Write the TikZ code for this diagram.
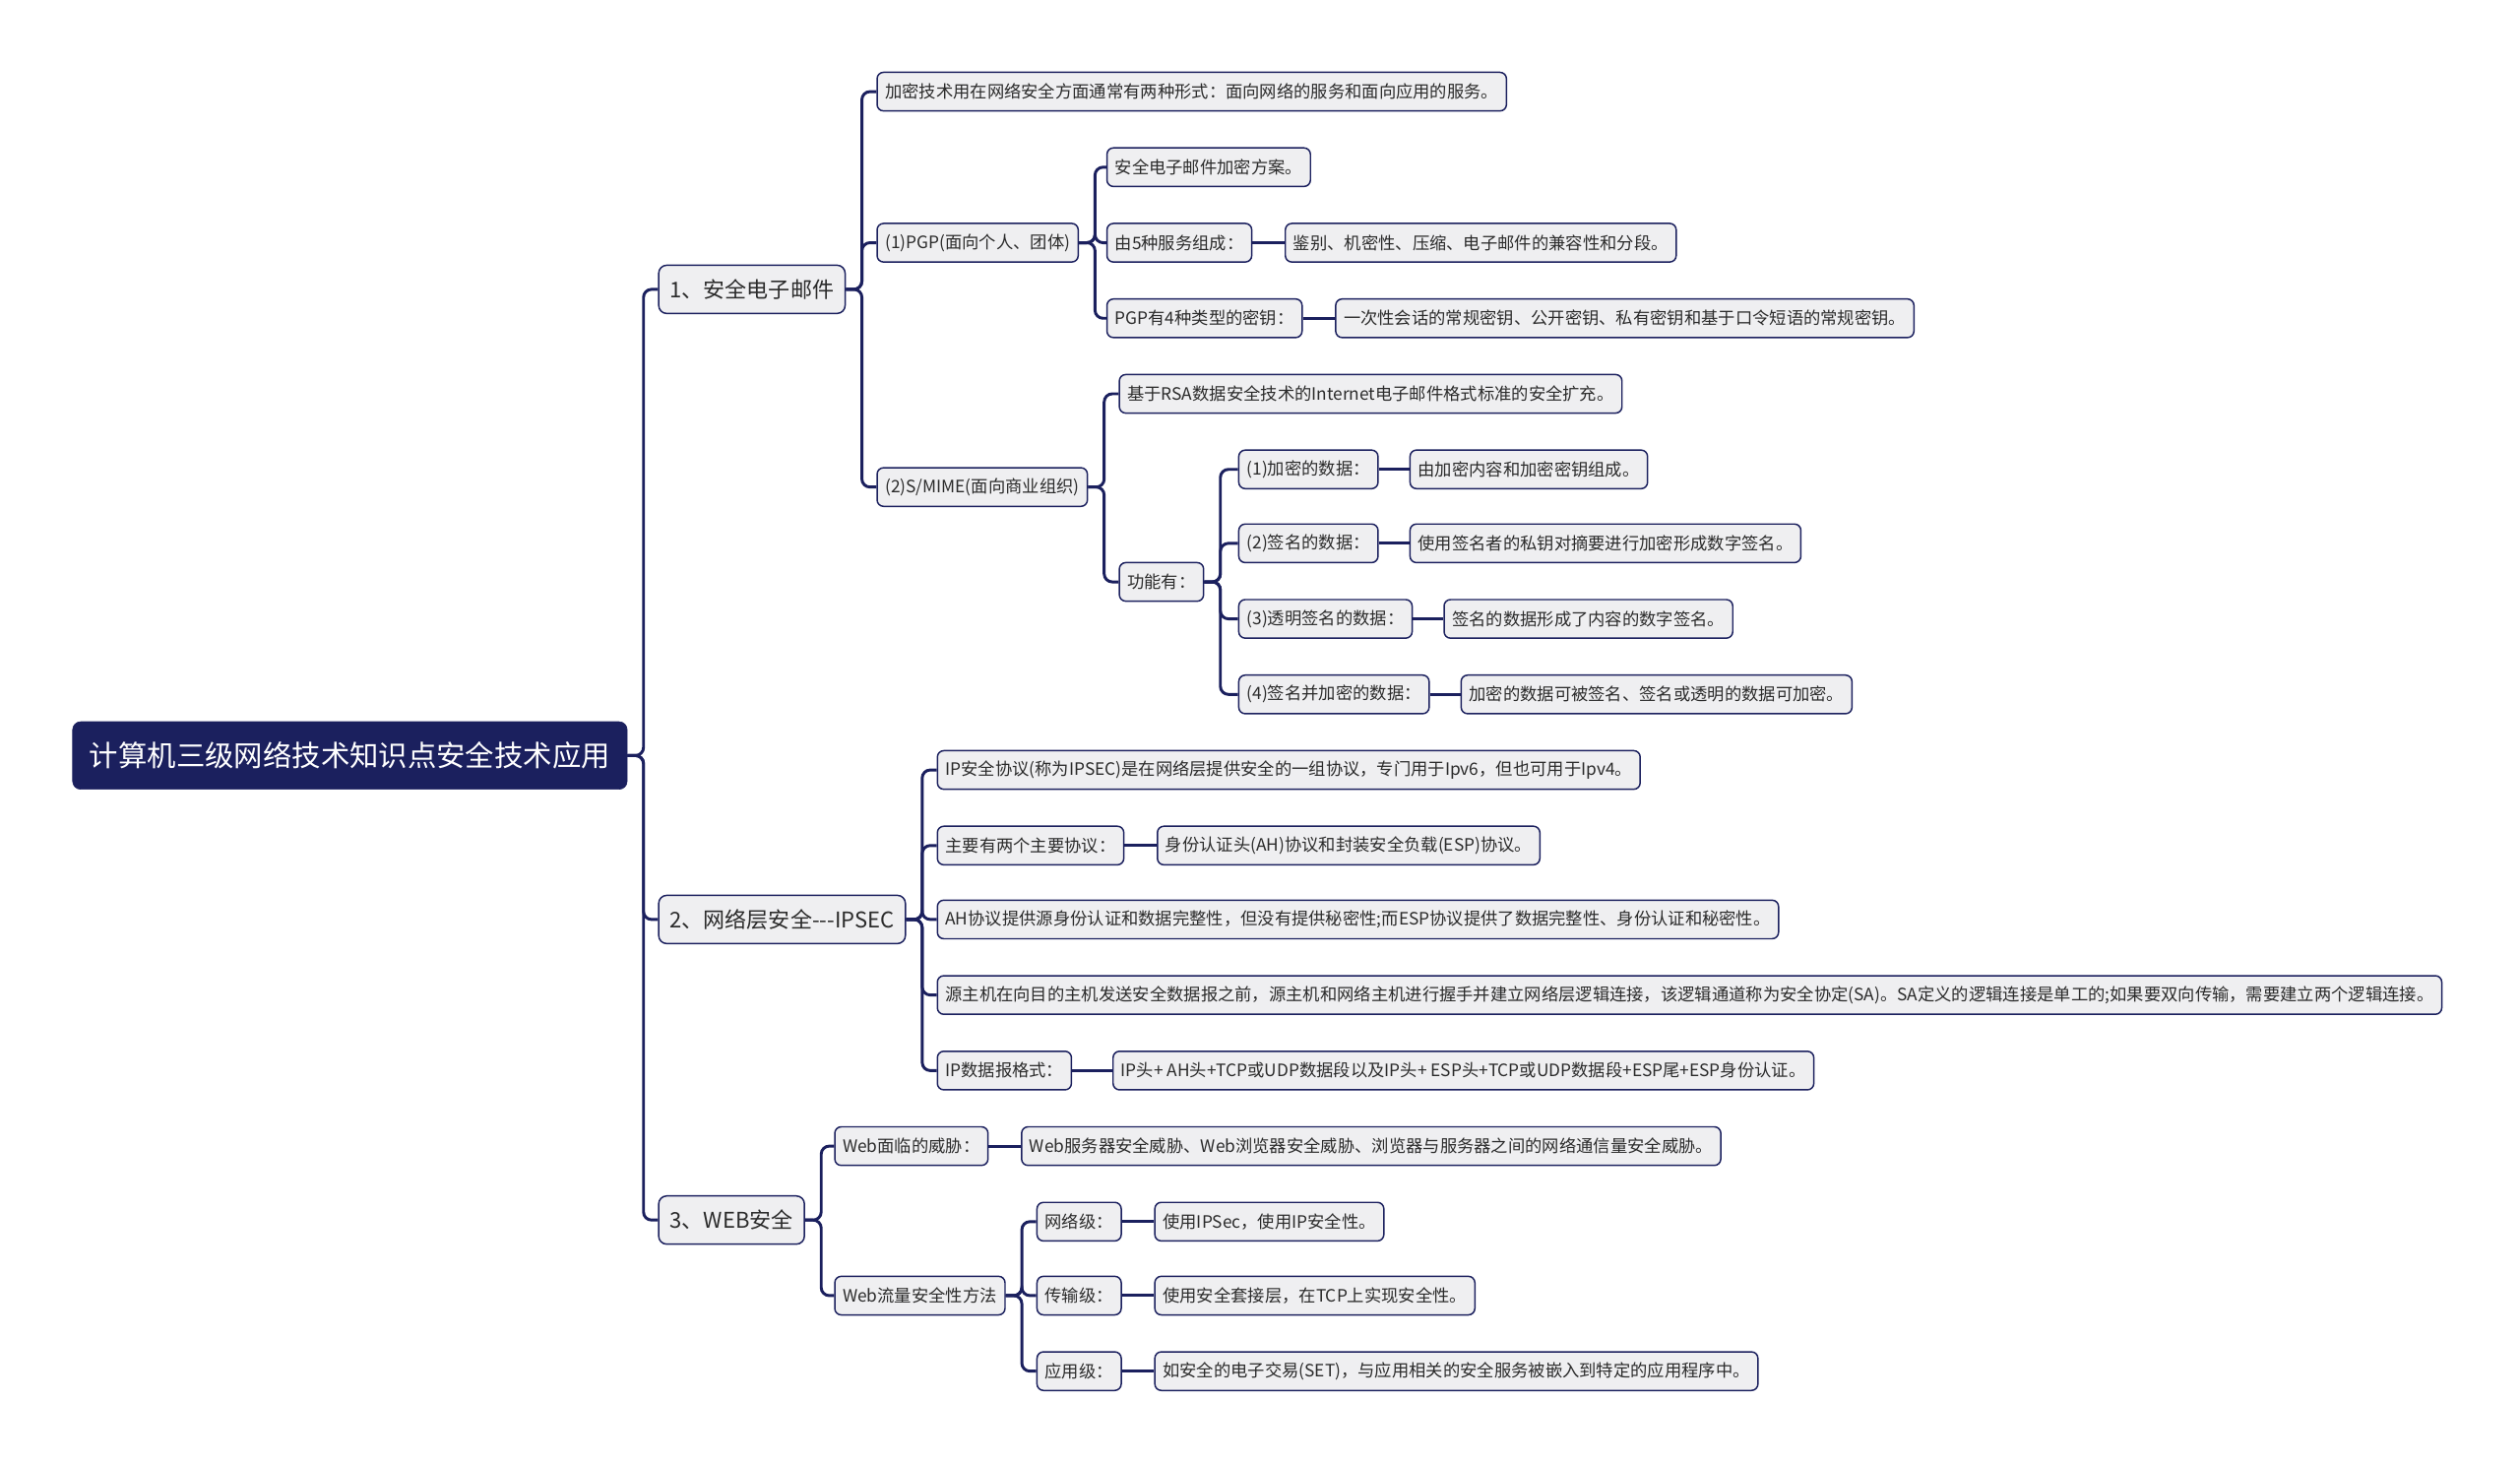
\documentclass[tikz,border=0pt]{standalone}
\usepackage{fontspec}
\setmainfont{Noto Sans CJK SC}
\usepackage{xcolor}
\usepackage{tikz}
\usetikzlibrary{positioning}
\definecolor{mNavy}{HTML}{1B205E}
\definecolor{mFill}{HTML}{EFEFF1}
\definecolor{mInk}{HTML}{2B2B2B}
\tikzset{
  rootbox/.style={draw=mNavy, fill=mNavy, text=white, rounded corners=5pt, font=\fontsize{18}{20}\selectfont, minimum height=42pt, inner xsep=10.5pt, anchor=west},
  topicbox/.style={draw=mNavy, line width=0.9pt, fill=mFill, text=mInk, rounded corners=5pt, font=\fontsize{13.5}{15}\selectfont, minimum height=30pt, inner xsep=7pt},
  leafbox/.style={draw=mNavy, line width=0.9pt, fill=mFill, text=mInk, rounded corners=4pt, font=\fontsize{10.6}{12}\selectfont, minimum height=24pt, inner xsep=5pt},
  link/.style={draw=mNavy, line width=1.8pt, rounded corners=5pt}
}
\begin{document}
\begin{tikzpicture}[x=1pt, y=-1pt]
  \useasboundingbox (0,0) rectangle (1568,911);
  % root
  \node[rootbox] (root) at (45,470) {计算机三级网络技术知识点安全技术应用};
  % main topics
  \node[topicbox, right=19pt of root, yshift=290pt] (mail) {1、安全电子邮件};
  \node[topicbox, right=19pt of root, yshift=-102pt] (ipsec) {2、网络层安全-{}-{}-IPSEC};
  \node[topicbox, right=19pt of root, yshift=-289pt] (web) {3、WEB安全};
  % 1. secure e-mail
  \node[leafbox, right=19pt of mail, yshift=123pt] (mailA) {加密技术用在网络安全方面通常有两种形式：面向网络的服务和面向应用的服务。};
  \node[leafbox, right=19pt of mail, yshift=29pt] (pgp) {(1)PGP(面向个人、团体)};
  \node[leafbox, right=19pt of mail, yshift=-123pt] (smime) {(2)S/MIME(面向商业组织)};
  \node[leafbox, right=17pt of pgp, yshift=47pt] (pgpA) {安全电子邮件加密方案。};
  \node[leafbox, right=17pt of pgp] (pgpB) {由5种服务组成：};
  \node[leafbox, right=17pt of pgp, yshift=-47pt] (pgpC) {PGP有4种类型的密钥：};
  \node[leafbox, right=20pt of pgpB] (pgpBx) {鉴别、机密性、压缩、电子邮件的兼容性和分段。};
  \node[leafbox, right=20pt of pgpC] (pgpCx) {一次性会话的常规密钥、公开密钥、私有密钥和基于口令短语的常规密钥。};
  \node[leafbox, right=19pt of smime, yshift=58pt] (smA) {基于RSA数据安全技术的Internet电子邮件格式标准的安全扩充。};
  \node[leafbox, right=19pt of smime, yshift=-59pt] (func) {功能有：};
  \node[leafbox, right=21pt of func, yshift=70pt] (fnA) {(1)加密的数据：};
  \node[leafbox, right=21pt of func, yshift=24pt] (fnB) {(2)签名的数据：};
  \node[leafbox, right=21pt of func, yshift=-23pt] (fnC) {(3)透明签名的数据：};
  \node[leafbox, right=21pt of func, yshift=-70pt] (fnD) {(4)签名并加密的数据：};
  \node[leafbox, right=19pt of fnA] (fnAx) {由加密内容和加密密钥组成。};
  \node[leafbox, right=19pt of fnB] (fnBx) {使用签名者的私钥对摘要进行加密形成数字签名。};
  \node[leafbox, right=19pt of fnC] (fnCx) {签名的数据形成了内容的数字签名。};
  \node[leafbox, right=19pt of fnD] (fnDx) {加密的数据可被签名、签名或透明的数据可加密。};
  % 2. IPSEC
  \node[leafbox, right=19pt of ipsec, yshift=93pt] (ipA) {IP安全协议(称为IPSEC)是在网络层提供安全的一组协议，专门用于Ipv6，但也可用于Ipv4。};
  \node[leafbox, right=19pt of ipsec, yshift=46pt] (ipB) {主要有两个主要协议：};
  \node[leafbox, right=19pt of ipsec] (ipC) {AH协议提供源身份认证和数据完整性，但没有提供秘密性;而ESP协议提供了数据完整性、身份认证和秘密性。};
  \node[leafbox, right=19pt of ipsec, yshift=-47pt] (ipD) {源主机在向目的主机发送安全数据报之前，源主机和网络主机进行握手并建立网络层逻辑连接，该逻辑通道称为安全协定(SA)。SA定义的逻辑连接是单工的;如果要双向传输，需要建立两个逻辑连接。};
  \node[leafbox, right=19pt of ipsec, yshift=-94pt] (ipE) {IP数据报格式：};
  \node[leafbox, right=20pt of ipB] (ipBx) {身份认证头(AH)协议和封装安全负载(ESP)协议。};
  \node[leafbox, right=25pt of ipE] (ipEx) {IP头+ AH头+TCP或UDP数据段以及IP头+ ESP头+TCP或UDP数据段+ESP尾+ESP身份认证。};
  % 3. WEB
  \node[leafbox, right=18pt of web, yshift=46pt] (threat) {Web面临的威胁：};
  \node[leafbox, right=18pt of web, yshift=-47pt] (flow) {Web流量安全性方法};
  \node[leafbox, right=20pt of threat] (threatx) {Web服务器安全威胁、Web浏览器安全威胁、浏览器与服务器之间的网络通信量安全威胁。};
  \node[leafbox, right=19pt of flow, yshift=46pt] (lvA) {网络级：};
  \node[leafbox, right=19pt of flow] (lvB) {传输级：};
  \node[leafbox, right=19pt of flow, yshift=-47pt] (lvC) {应用级：};
  \node[leafbox, right=20pt of lvA] (lvAx) {使用IPSec，使用IP安全性。};
  \node[leafbox, right=20pt of lvB] (lvBx) {使用安全套接层，在TCP上实现安全性。};
  \node[leafbox, right=20pt of lvC] (lvCx) {如安全的电子交易(SET)，与应用相关的安全服务被嵌入到特定的应用程序中。};
  % tree links
  \foreach \p/\c in {root/mail, root/ipsec, root/web,
      mail/mailA, mail/pgp, mail/smime, pgp/pgpA, pgp/pgpB, pgp/pgpC,
      smime/smA, smime/func, func/fnA, func/fnB, func/fnC, func/fnD,
      ipsec/ipA, ipsec/ipB, ipsec/ipC, ipsec/ipD, ipsec/ipE,
      web/threat, web/flow, flow/lvA, flow/lvB, flow/lvC}
    \draw[link] (\p.east) -- ++(10pt,0) |- (\c.west);
  % straight links
  \foreach \p in {pgpB, pgpC, fnA, fnB, fnC, fnD, ipB, ipE, threat, lvA, lvB, lvC}
    \draw[link] (\p.east) -- (\p x.west);
\end{tikzpicture}
\end{document}
